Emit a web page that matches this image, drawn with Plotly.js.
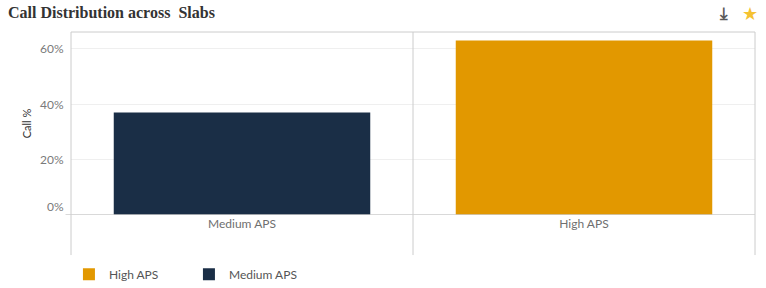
<!DOCTYPE html>
<html>
<head>
<meta charset="utf-8">
<script src="https://cdn.plot.ly/plotly-3.0.1.min.js"></script>
<style>html,body{margin:0;padding:0;background:#fff;}#chart{width:766px;height:288px;}</style>
</head>
<body>
<div id="chart"></div>
<script>
// Data
const categories = ["Medium APS", "High APS"];
const seriesNames = ["High APS", "Medium APS"];
const seriesCategory = ["High APS", "Medium APS"];
const seriesValues = [63, 37];
const seriesColors = ["#e29800", "#1a2e46"];
const yTickVals = [0, 20, 40, 60];
const yTickText = ["0%", "20%", "40%", "60%"];

const traces = seriesNames.map((name, i) => ({
  type: "bar",
  name: name,
  x: [seriesCategory[i]],
  y: [seriesValues[i]],
  marker: {color: seriesColors[i]},
  hoverinfo: "x+y"
}));

const yLabelAnns = yTickVals.map((v, i) => ({
  xref: "paper", yref: "y", x: 0, y: v,
  xanchor: "right", yanchor: "middle", xshift: -5,
  yshift: v === 0 ? 9 : 0,
  text: yTickText[i], showarrow: false,
  font: {family: "Lato, 'Open Sans', sans-serif", size: 12, color: "#7a7a7a"}
}));

const gridColor = "#cccccc";
const layout = {
  width: 766, height: 288,
  margin: {l: 71, r: 11, t: 32, b: 73, autoexpand: false},
  paper_bgcolor: "#ffffff", plot_bgcolor: "#ffffff",
  barmode: "overlay",
  bargap: 0.25,
  showlegend: true,
  legend: {
    orientation: "h", xref: "container", yref: "container",
    x: 0.09, xanchor: "left", y: 0.048, yanchor: "middle",
    font: {family: "Lato, 'Open Sans', sans-serif", size: 12, color: "#555"},
    itemwidth: 30, entrywidth: 75, entrywidthmode: "pixels", traceorder: "normal"
  },
  xaxis: {
    type: "category", categoryorder: "array", categoryarray: categories,
    showgrid: false, zeroline: false, showline: false, ticks: "",
    tickfont: {family: "Lato, 'Open Sans', sans-serif", size: 12, color: "#6f6f6f"},
    fixedrange: true
  },
  yaxis: {
    range: [0, 66.1], tickvals: yTickVals, showticklabels: false,
    showgrid: true, gridcolor: "#efefef", gridwidth: 1,
    zeroline: false, showline: false, ticks: "",
    title: {text: "Call %", standoff: 36, font: {family: "Lato, 'Open Sans', sans-serif", size: 11, color: "#333"}},
    fixedrange: true
  },
  annotations: [
    {xref: "paper", yref: "paper", x: -0.095, y: 1.109, xanchor: "left", yanchor: "middle",
     text: "<b>Call Distribution across\u00a0\u00a0Slabs</b>", showarrow: false,
     font: {family: "'Liberation Serif', 'DejaVu Serif', serif", size: 16, color: "#333"}},
    {xref: "paper", yref: "paper", x: 0.954, y: 1.17, xanchor: "center", yanchor: "top",
     text: "<b>\u2913</b>", showarrow: false, font: {family: "'DejaVu Sans', sans-serif", size: 17, color: "#5a5a5a"}},
    {xref: "paper", yref: "paper", x: 0.993, y: 1.17, xanchor: "center", yanchor: "top",
     text: "\u2605", showarrow: false, font: {family: "'DejaVu Sans', sans-serif", size: 18, color: "#f5c232"}}
  ].concat(yLabelAnns),
  shapes: [
    {type: "line", xref: "paper", yref: "paper", x0: 0, x1: 1, y0: 1, y1: 1, line: {color: gridColor, width: 1}},
    {type: "line", xref: "paper", yref: "paper", x0: 0, x1: 0, y0: 1, y1: -0.219, line: {color: gridColor, width: 1}},
    {type: "line", xref: "paper", yref: "paper", x0: 1, x1: 1, y0: 1, y1: -0.219, line: {color: gridColor, width: 1}},
    {type: "line", xref: "paper", yref: "paper", x0: 0.5, x1: 0.5, y0: 1, y1: -0.219, line: {color: gridColor, width: 1}},
    {type: "line", xref: "paper", yref: "y", x0: -0.008, x1: 1, y0: 0, y1: 0, line: {color: gridColor, width: 1.5}}
  ]
};

Plotly.newPlot("chart", traces, layout, {displayModeBar: false, staticPlot: false});
</script>
</body>
</html>
